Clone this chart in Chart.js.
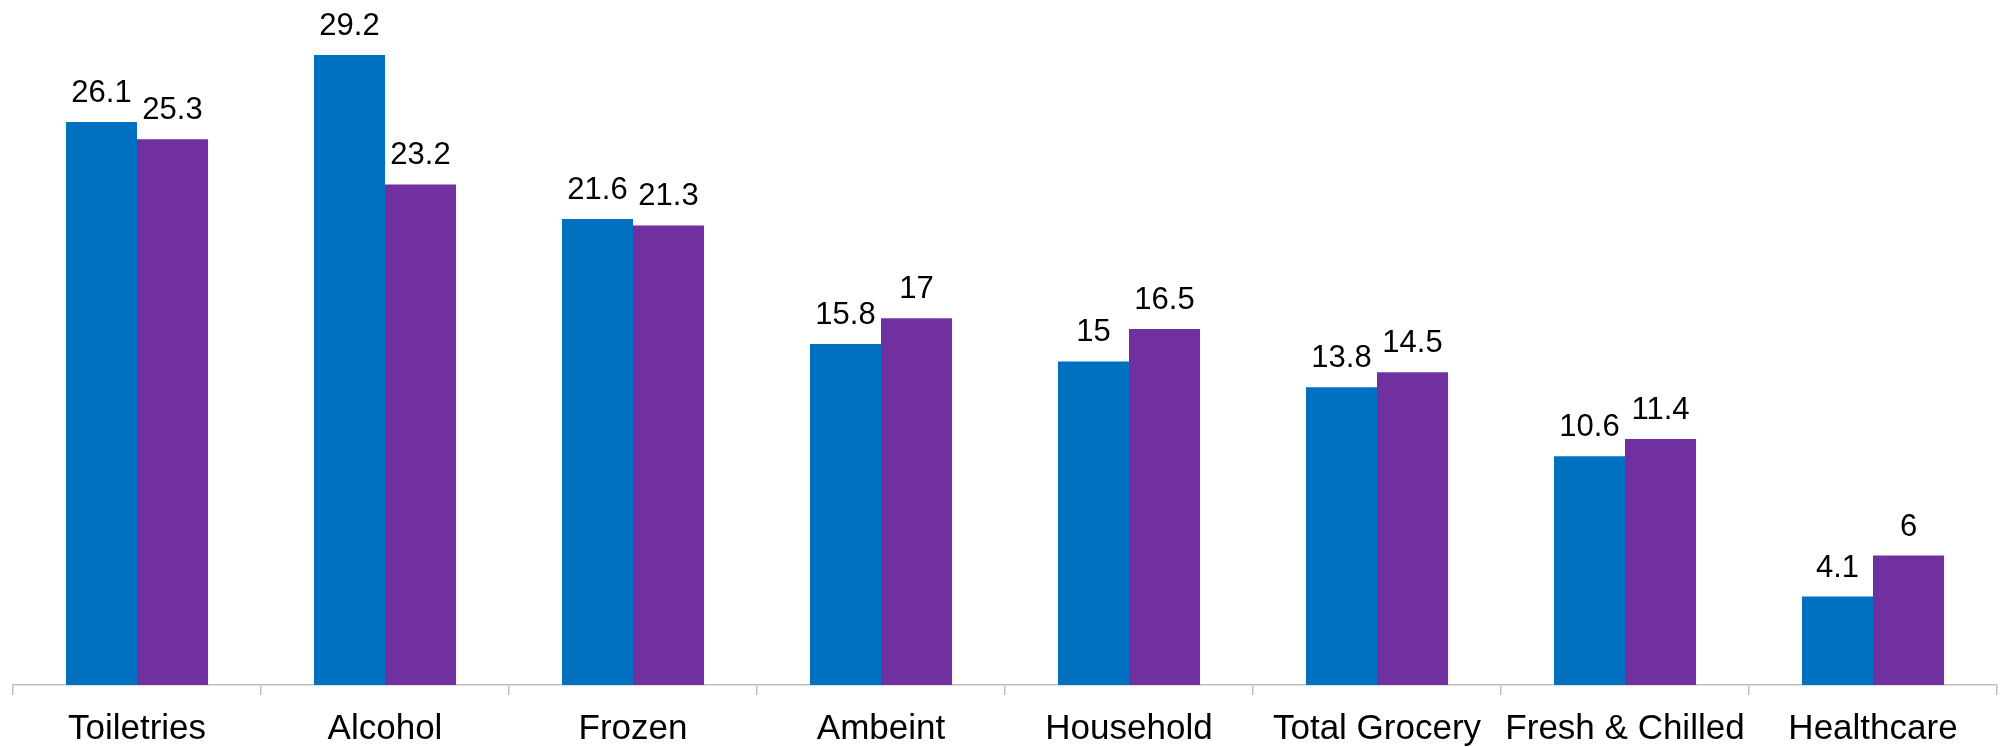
<!DOCTYPE html>
<html>
<head>
<meta charset="utf-8">
<script src="https://cdn.jsdelivr.net/npm/chart.js@4/dist/chart.umd.min.js"></script>
<style>
  html, body { margin: 0; padding: 0; background: #fff; }
  #wrap { width: 2009px; height: 747px; position: relative; }
</style>
</head>
<body>
<div id="wrap"><canvas id="chart"></canvas></div>
<script>
const categories = ["Toiletries", "Alcohol", "Frozen", "Ambeint", "Household", "Total Grocery", "Fresh & Chilled", "Healthcare"]
const seriesA = [26.1, 29.2, 21.6, 15.8, 15, 13.8, 10.6, 4.1]
const seriesB = [25.3, 23.2, 21.3, 17, 16.5, 14.5, 11.4, 6]

// value labels above every bar
const barLabels = {
  id: "barLabels",
  afterDatasetsDraw(chart) {
    const ctx = chart.ctx
    ctx.save()
    ctx.font = "31px 'Liberation Sans', Arial, sans-serif"
    ctx.fillStyle = "#000"
    ctx.textAlign = "center"
    ctx.textBaseline = "alphabetic"
    chart.data.datasets.forEach((ds, i) => {
      chart.getDatasetMeta(i).data.forEach((bar, j) => {
        ctx.fillText(String(ds.data[j]), bar.x, bar.y - 20)
      })
    })
    ctx.restore()
  }
}

new Chart(document.getElementById("chart"), {
  type: "bar",
  data: {
    labels: categories,
    datasets: [
      { data: seriesA, backgroundColor: "#0070C0", barPercentage: 1, categoryPercentage: 0.573 },
      { data: seriesB, backgroundColor: "#7030A0", barPercentage: 1, categoryPercentage: 0.573 }
    ]
  },
  options: {
    responsive: true,
    maintainAspectRatio: false,
    animation: false,
    layout: { padding: { top: 0, left: 13, right: 12, bottom: 0 } },
    plugins: { legend: { display: false }, tooltip: { enabled: false } },
    scales: {
      x: {
        // fixed band under the axis for ticks and category names
        afterFit(scale) { scale.height = 62 },
        grid: { display: true, drawOnChartArea: false, drawTicks: true, tickLength: 10, color: "#bfbfbf", lineWidth: 1.5 },
        border: { display: true, color: "#bfbfbf", width: 1.5 },
        ticks: {
          color: "#000",
          padding: 17,
          maxRotation: 0,
          autoSkip: false,
          font: { family: "'Liberation Sans', Arial, sans-serif", size: 35, lineHeight: 1 }
        }
      },
      y: { display: false, min: 0, max: 31.75 }
    }
  },
  plugins: [barLabels]
})
</script>
</body>
</html>
